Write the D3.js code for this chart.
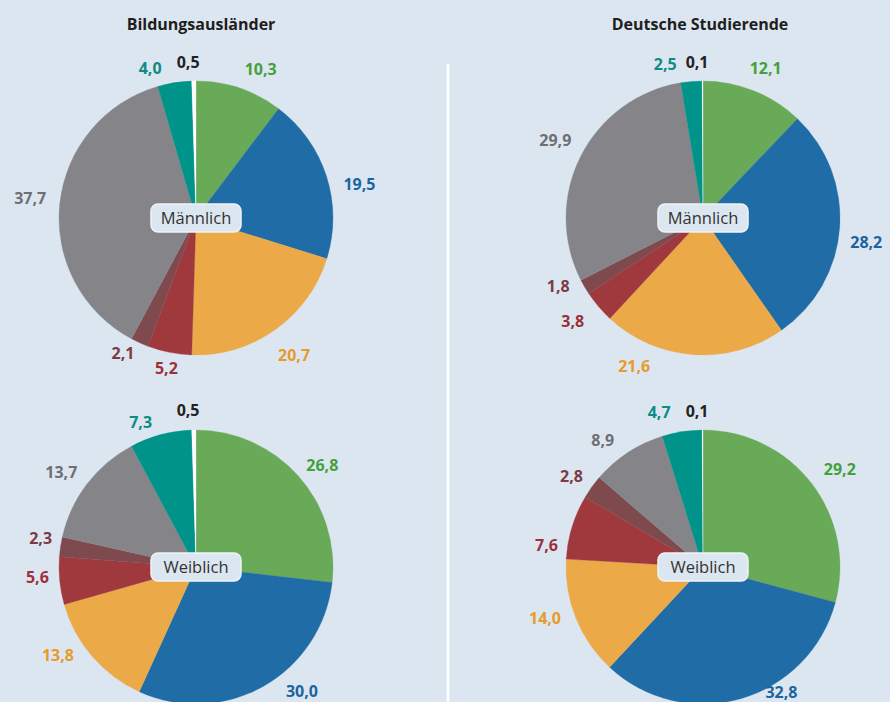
<!DOCTYPE html>
<html><head><meta charset="utf-8">
<script src="https://cdn.jsdelivr.net/npm/d3@7/dist/d3.min.js"></script>
<style>
html,body{margin:0;padding:0;background:#dce6f0;}
svg{display:block;font-family:"Open Sans","Noto Sans",sans-serif;}
</style></head>
<body><svg id="chart" width="890" height="702"></svg>
<script>
// ---- data ----
const groups = ["Bildungsausländer", "Deutsche Studierende"];
const genders = ["Männlich", "Weiblich"];
const categories = ["c1", "c2", "c3", "c4", "c5", "c6", "c7", "c8"];
const bildungMaennlich = [10.3, 19.5, 20.7, 5.2, 2.1, 37.7, 4.0, 0.5];
const bildungWeiblich  = [26.8, 30.0, 13.8, 5.6, 2.3, 13.7, 7.3, 0.5];
const deutschMaennlich = [12.1, 28.2, 21.6, 3.8, 1.8, 29.9, 2.5, 0.1];
const deutschWeiblich  = [29.2, 32.8, 14.0, 7.6, 2.8, 8.9, 4.7, 0.1];

// ---- styles ----
const sliceColors = ["#68aa58", "#1f6ca6", "#eba947", "#9f393d", "#7f4a4e", "#858589", "#00938a", "#ffffff"];
const labelColors = ["#43a03a", "#1b64a0", "#e69b2b", "#9c2f3a", "#7b3b45", "#6f6f73", "#0e8c83", "#222222"];

// label placement tweaks (angle offset in degrees, label radius) per panel / slice
const labelLayout = {
  "0-0": [[5,162],[6,167],[0,169],[0,153],[4,154],[1,167],[-8,157],[-2,156]],
  "1-0": [[1,162],[4,165],[21,163],[2,166],[5,160],[1,167],[-9,158],[-2,156]],
  "0-1": [[3,162],[-11,163],[8,164],[2,159],[2,158],[-2,165],[-6,155],[-2,157]],
  "1-1": [[2,168],[-16,148],[4,166],[-9,158],[-1,160],[-5,162],[-7,161],[-2,156]]
};

const panels = [
  {g:0, s:0, values: bildungMaennlich},
  {g:0, s:1, values: bildungWeiblich},
  {g:1, s:0, values: deutschMaennlich},
  {g:1, s:1, values: deutschWeiblich}
];

const svg = d3.select("#chart");
const W = 890, H = 702;
const colX = d3.scalePoint().domain(groups).range([196, 703]);
const titleX = d3.scalePoint().domain(groups).range([201, 700]);
const rowY = d3.scalePoint().domain(genders).range([218, 567]);
const R = 137;

const color = d3.scaleOrdinal().domain(categories).range(sliceColors);
const lcolor = d3.scaleOrdinal().domain(categories).range(labelColors);

// titles
svg.selectAll("text.title").data(groups).join("text")
  .attr("class","title")
  .attr("x", d => titleX(d)).attr("y", 30)
  .attr("text-anchor","middle")
  .attr("font-size", 16).attr("font-weight", 700).attr("fill", "#1e1e1e")
  .text(d => d);

// divider
svg.append("line").attr("x1", 448).attr("x2", 448).attr("y1", 64).attr("y2", H)
  .attr("stroke", "#ffffff").attr("stroke-width", 2.5);

const pie = d3.pie().sort(null).value(d => d.v).startAngle(0).endAngle(2*Math.PI);
const arc = d3.arc().innerRadius(0).outerRadius(R);

panels.forEach(p => {
  const cx = colX(groups[p.g]), cy = rowY(genders[p.s]);
  const g = svg.append("g").attr("transform", `translate(${cx},${cy})`);
  const data = p.values.map((v,i) => ({v, cat: categories[i], i}));
  const arcs = pie(data);
  g.selectAll("path").data(arcs).join("path")
    .attr("d", arc)
    .attr("fill", d => color(d.data.cat))
    .attr("stroke", d => color(d.data.cat))
    .attr("stroke-width", 0.3);
  const lay = labelLayout[p.g + "-" + p.s];
  const pos = d => {
    const a = (d.startAngle + d.endAngle)/2 + lay[d.data.i][0]*Math.PI/180;
    return [Math.sin(a) * lay[d.data.i][1], -Math.cos(a) * lay[d.data.i][1]];
  };
  g.selectAll("text.val").data(arcs).join("text")
    .attr("class","val")
    .attr("x", d => pos(d)[0])
    .attr("y", d => pos(d)[1])
    .attr("dy", "0.36em")
    .attr("text-anchor","middle")
    .attr("font-size", 16).attr("font-weight", 700)
    .attr("fill", d => lcolor(d.data.cat))
    .text(d => d3.format(".1f")(d.data.v).replace(".", ","));
  // center label box
  const lab = g.append("g");
  lab.append("rect").attr("x", -45).attr("y", -14).attr("width", 90).attr("height", 28)
    .attr("rx", 7).attr("fill", "#dce6f0").attr("stroke", "#eef3f8").attr("stroke-width", 1.5);
  lab.append("text").attr("text-anchor","middle").attr("dy","0.36em")
    .attr("font-size", 16.5).attr("fill", "#333333").text(genders[p.s]);
});
</script></body></html>
